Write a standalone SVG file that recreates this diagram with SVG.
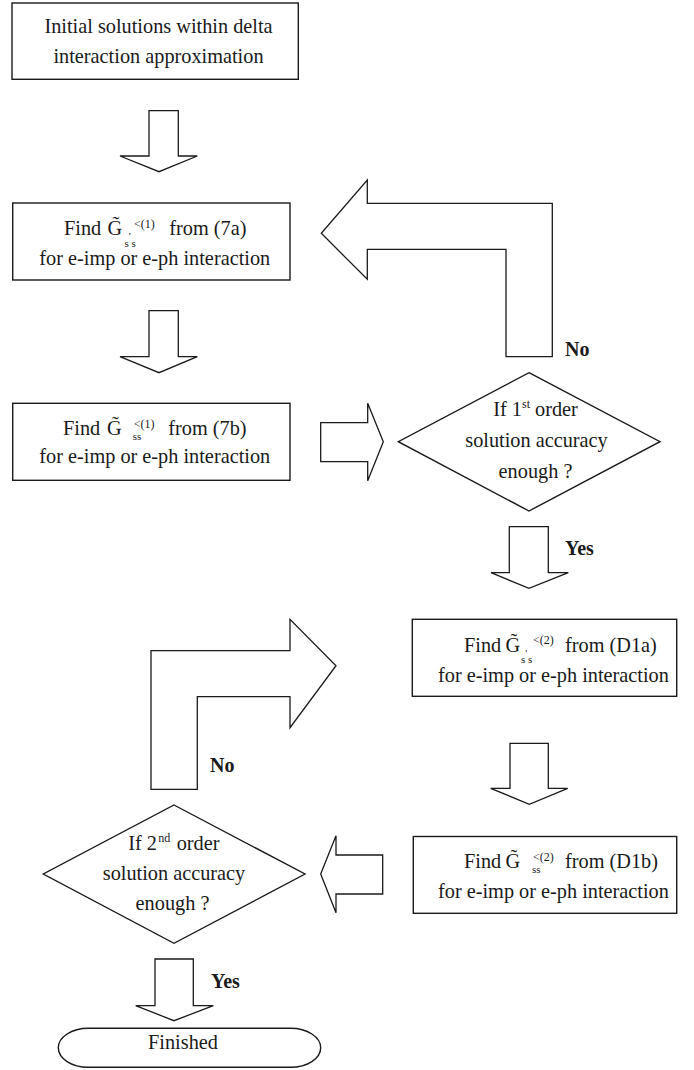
<svg xmlns="http://www.w3.org/2000/svg" width="694" height="1070" viewBox="0 0 694 1070">
<style>
.box{fill:#fff;stroke:#1a1a1a;stroke-width:1.4}
.arr{fill:#fff;stroke:#1a1a1a;stroke-width:1.3;stroke-linejoin:miter}
text{font-family:"Liberation Serif","Times New Roman",serif;fill:#1a1a1a}
.t{font-size:20.3px}
.c{text-anchor:middle}
.lbl{font-size:20px;font-weight:bold}
.sm{font-size:12px}
.xs{font-size:11px}
</style>
<rect width="694" height="1070" fill="#fff"/>

<g id="connectors">
  <polygon class="arr" points="149,110.7 178.3,110.7 178.3,156 197.3,156 159,171.7 120,156 149,156"/>
  <polygon class="arr" points="149,310.7 178.3,310.7 178.3,356.7 197.3,356.7 159,372.7 120,356.7 149,356.7"/>
  <polygon class="arr" points="320.7,422.7 367.7,422.7 367.7,403.3 383.3,441.7 367.7,480.7 367.7,461.7 320.7,461.7"/>
  <polygon class="arr" points="506,356.7 506,249.3 367.3,249.3 367.3,279.3 321.3,233.3 367.3,180 367.3,203.3 552.3,203.3 552.3,356.7"/>
  <text class="lbl" x="565" y="355.7">No</text>
  <polygon class="arr" points="509.3,526.7 548.3,526.7 548.3,572.7 568.3,572.7 529,588.3 491,572.7 509.3,572.7"/>
  <text class="lbl" x="565" y="555">Yes</text>
  <polygon class="arr" points="510,743.3 548.3,743.3 548.3,788.3 567.7,788.3 529.3,804.3 490.7,788.3 510,788.3"/>
  <polygon class="arr" points="382.7,855 336,855 336,835.7 320.7,874 336,912.7 336,894 382.7,894"/>
  <polygon class="arr" points="151,789.3 151,650.7 290,650.7 290,619.3 336,665.7 290,727.7 290,696.7 197.3,696.7 197.3,789.3"/>
  <text class="lbl" x="210" y="771.7">No</text>
  <polygon class="arr" points="155,959 193.3,959 193.3,1005.7 213.3,1005.7 174,1020.7 135.7,1005.7 155,1005.7"/>
  <text class="lbl" x="211" y="987.7">Yes</text>
</g>

<g id="n-init">
  <rect class="box" x="12" y="3" width="286.3" height="76.3"/>
  <text class="t c" x="158.5" y="33">Initial solutions within delta</text>
  <text class="t c" x="158.5" y="63.3">interaction approximation</text>
</g>

<g id="n-7a">
  <rect class="box" x="12.7" y="203" width="277.3" height="77"/>
  <text class="t" x="64" y="235">Find</text>
  <text class="t" x="107.5" y="235">G&#771;</text>
  <text class="sm" x="134" y="227.5">&lt;(1)</text>
  <text class="xs" x="124.5" y="246.5">s s</text>
  <text class="xs" x="128.8" y="240">'</text>
  <text class="t" x="169.3" y="235">from (7a)</text>
  <text class="t" x="39.3" y="265">for e-imp or e-ph interaction</text>
</g>

<g id="n-7b">
  <rect class="box" x="12.7" y="403.3" width="277.3" height="77"/>
  <text class="t" x="63" y="435">Find</text>
  <text class="t" x="107" y="435">G&#771;</text>
  <text class="sm" x="133.8" y="428">&lt;(1)</text>
  <text class="xs" x="132.8" y="440">ss</text>
  <text class="t" x="168.3" y="435">from (7b)</text>
  <text class="t" x="39.3" y="463.3">for e-imp or e-ph interaction</text>
</g>

<g id="n-d1">
  <polygon class="box" points="529,372.7 660,441.7 529,511 398.3,441.7"/>
  <text class="t" x="493.3" y="416">If 1</text>
  <text class="sm" x="522" y="408">st</text>
  <text class="t" x="535" y="416">order</text>
  <text class="t c" x="536.5" y="446.7">solution accuracy</text>
  <text class="t c" x="535.5" y="478">enough ?</text>
</g>

<g id="n-d1a">
  <rect class="box" x="412.3" y="619.3" width="264.4" height="77"/>
  <text class="t" x="464" y="651.7">Find</text>
  <text class="t" x="505.5" y="651.7">G&#771;</text>
  <text class="sm" x="533" y="644.2">&lt;(2)</text>
  <text class="xs" x="521" y="663">s s</text>
  <text class="xs" x="525.3" y="656.5">'</text>
  <text class="t" x="565" y="651.7">from (D1a)</text>
  <text class="t" x="438" y="681.5">for e-imp or e-ph interaction</text>
</g>

<g id="n-d1b">
  <rect class="box" x="413.3" y="836.5" width="263.4" height="76.8"/>
  <text class="t" x="464" y="868.3">Find</text>
  <text class="t" x="505.5" y="868.3">G&#771;</text>
  <text class="sm" x="533" y="861.3">&lt;(2)</text>
  <text class="xs" x="532" y="873.3">ss</text>
  <text class="t" x="565" y="868.3">from (D1b)</text>
  <text class="t" x="438" y="898">for e-imp or e-ph interaction</text>
</g>

<g id="n-d2">
  <polygon class="box" points="174,805 305,874 174,943.3 43.3,874"/>
  <text class="t" x="128.3" y="850">If 2</text>
  <text class="sm" x="158.3" y="842">nd</text>
  <text class="t" x="176.7" y="850">order</text>
  <text class="t c" x="174" y="880">solution accuracy</text>
  <text class="t c" x="172.5" y="910">enough ?</text>
</g>

<g id="n-fin">
  <path class="box" d="M88.3,1028.3 H290.7 A30,19.5 0 0 1 290.7,1067.3 H88.3 A30,19.5 0 0 1 88.3,1028.3 Z"/>
  <text class="t c" x="183" y="1049.3">Finished</text>
</g>
</svg>
